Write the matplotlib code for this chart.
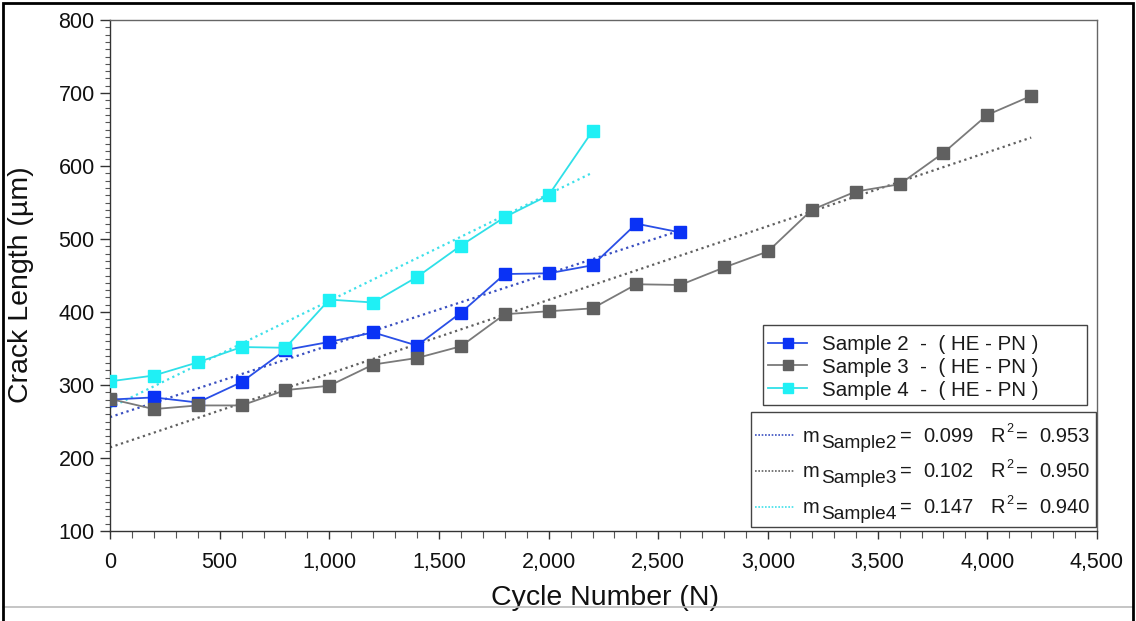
import numpy as np
import matplotlib
matplotlib.use("Agg")
import matplotlib.pyplot as plt
from matplotlib.ticker import MultipleLocator, FuncFormatter
from matplotlib.lines import Line2D
from matplotlib.patches import Rectangle

plt.rcParams['font.family'] = ['Liberation Sans', 'DejaVu Sans']

# ---- data ----
cycles_s2 = [0, 200, 400, 600, 800, 1000, 1200, 1400, 1600, 1800, 2000, 2200, 2400, 2600]
crack_s2 = [280, 283, 276, 304, 348, 359, 372, 354, 399, 452, 453, 464, 521, 509]

cycles_s3 = [0, 200, 400, 600, 800, 1000, 1200, 1400, 1600, 1800, 2000, 2200, 2400, 2600,
             2800, 3000, 3200, 3400, 3600, 3800, 4000, 4200]
crack_s3 = [281, 267, 272, 272, 293, 299, 328, 337, 353, 397, 401, 405, 438, 437,
            461, 483, 540, 565, 575, 618, 670, 696]

cycles_s4 = [0, 200, 400, 600, 800, 1000, 1200, 1400, 1600, 1800, 2000, 2200]
crack_s4 = [305, 313, 331, 352, 351, 417, 413, 448, 491, 530, 560, 648]

series_labels = ["Sample 2  -  ( HE - PN )", "Sample 3  -  ( HE - PN )", "Sample 4  -  ( HE - PN )"]
fit_names = ["Sample2", "Sample3", "Sample4"]
fit_slopes = ["0.099", "0.102", "0.147"]
fit_r2 = ["0.953", "0.950", "0.940"]

line_colors = ["#2a4fe6", "#7a7a7a", "#2fe0e8"]
marker_colors = ["#0a32f5", "#606060", "#1ff0f5"]
trend_colors = ["#3a4fc0", "#606060", "#3fe0ea"]

W, H = 1136, 621
fig = plt.figure(figsize=(W / 100, H / 100), dpi=100)
ax = fig.add_axes([110 / W, 1 - 531 / H, (1097 - 110) / W, (531 - 20) / H])


def fx(x):
    return x / W


def fy(y):
    return 1 - y / H


data = [(cycles_s2, crack_s2), (cycles_s3, crack_s3), (cycles_s4, crack_s4)]

# linear trend lines (least squares fit of each series)
for i, (xs, ys) in enumerate(data):
    xs = np.asarray(xs, float)
    ys = np.asarray(ys, float)
    m, b = np.polyfit(xs, ys, 1)
    xx = np.array([xs.min(), xs.max()])
    ax.plot(xx, m * xx + b, linestyle=(0, (1, 1.6)), color=trend_colors[i], lw=1.6, zorder=2)

for i, (xs, ys) in enumerate(data):
    ax.plot(xs, ys, '-', color=line_colors[i], lw=1.3, marker='s', markersize=8.5,
            markerfacecolor=marker_colors[i], markeredgecolor=marker_colors[i], zorder=3)

ax.set_xlim(0, 4500)
ax.set_ylim(100, 800)
ax.xaxis.set_major_locator(MultipleLocator(500))
ax.xaxis.set_minor_locator(MultipleLocator(100))
ax.yaxis.set_major_locator(MultipleLocator(100))
ax.yaxis.set_minor_locator(MultipleLocator(10))
ax.xaxis.set_major_formatter(FuncFormatter(lambda v, p: f"{int(v):,}"))

ax.tick_params(axis='both', which='major', direction='out', width=1.0,
               color='#333333', labelsize=15.5, labelcolor='#111111')
ax.tick_params(axis='both', which='minor', direction='out', width=0.8, color='#555555')
ax.tick_params(axis='x', which='major', length=6, pad=9)
ax.tick_params(axis='x', which='minor', length=5)
ax.tick_params(axis='y', which='major', length=7, pad=4)
ax.tick_params(axis='y', which='minor', length=3.5)

for s in ['left', 'bottom']:
    ax.spines[s].set_color('#333333')
    ax.spines[s].set_linewidth(1.0)
for s in ['top', 'right']:
    ax.spines[s].set_color('#666666')
    ax.spines[s].set_linewidth(1.0)

ax.set_xlabel("Cycle Number (N)", fontsize=20.5, color='#111111')
ax.set_ylabel("Crack Length (µm)", fontsize=20.5, color='#111111')
ax.xaxis.label.set_va('center')
ax.xaxis.set_label_coords(0.5015, (531 - 598) / 511)
ax.yaxis.label.set_va('center')
ax.yaxis.label.set_ha('center')
ax.yaxis.set_label_coords((21 - 110) / 987, (531 - 285) / 511)

# ---- legend 1 (series) ----
fig.patches.append(Rectangle((fx(762.7), fy(405)), (1086.7 - 762.7) / W, (405 - 325) / H,
                             transform=fig.transFigure, facecolor='white',
                             edgecolor='#444444', lw=1.0, zorder=5))
rows1 = [342.7, 365.3, 388.0]
for i, yc in enumerate(rows1):
    fig.lines.append(Line2D([fx(768), fx(807)], [fy(yc), fy(yc)], transform=fig.transFigure,
                            color=line_colors[i], lw=1.3, zorder=6))
    fig.lines.append(Line2D([fx(788)], [fy(yc)], transform=fig.transFigure, marker='s',
                            markersize=7.5, markerfacecolor=marker_colors[i],
                            markeredgecolor=marker_colors[i], linestyle='none', zorder=7))
    fig.text(fx(821.7), fy(yc), series_labels[i], fontsize=14.8, color='#1a1a1a',
             ha='left', va='center_baseline', zorder=8)

# ---- legend 2 (fits) ----
fig.patches.append(Rectangle((fx(750.5), fy(526.7)), (1096 - 750.5) / W, (526.7 - 411.7) / H,
                             transform=fig.transFigure, facecolor='white',
                             edgecolor='#444444', lw=1.0, zorder=5))
base2 = [441.5, 477.0, 513.0]
fs2 = 14.5
for i, yb in enumerate(base2):
    fig.lines.append(Line2D([fx(755), fx(795)], [fy(yb - 6.5), fy(yb - 6.5)],
                            transform=fig.transFigure, color=trend_colors[i],
                            linestyle=(0, (1, 1.0)), lw=1.2, zorder=6))
    kw = dict(color='#1a1a1a', ha='left', va='baseline', zorder=8)
    fig.text(fx(803), fy(yb), "m", fontsize=fs2, **kw)
    fig.text(fx(821), fy(yb + 6), fit_names[i], fontsize=13.8, **kw)
    fig.text(fx(900), fy(yb), "=", fontsize=fs2, **kw)
    fig.text(fx(923), fy(yb), fit_slopes[i], fontsize=fs2, **kw)
    fig.text(fx(990), fy(yb), "R", fontsize=fs2, **kw)
    fig.text(fx(1006), fy(yb - 9), "2", fontsize=9, **kw)
    fig.text(fx(1016), fy(yb), "=", fontsize=fs2, **kw)
    fig.text(fx(1039), fy(yb), fit_r2[i], fontsize=fs2, **kw)

# outer frame of the picture
fig.patches.append(Rectangle((3 / W, -0.01), (W - 6) / W, 1 - 3 / H + 0.01, transform=fig.transFigure,
                             fill=False, edgecolor='black', lw=2.0, zorder=9))
fig.lines.append(Line2D([3 / W, 1 - 3 / W], [fy(607), fy(607)], transform=fig.transFigure,
                        color='#bbbbbb', lw=1.2, zorder=9))

fig.savefig("out.png", dpi=100)
